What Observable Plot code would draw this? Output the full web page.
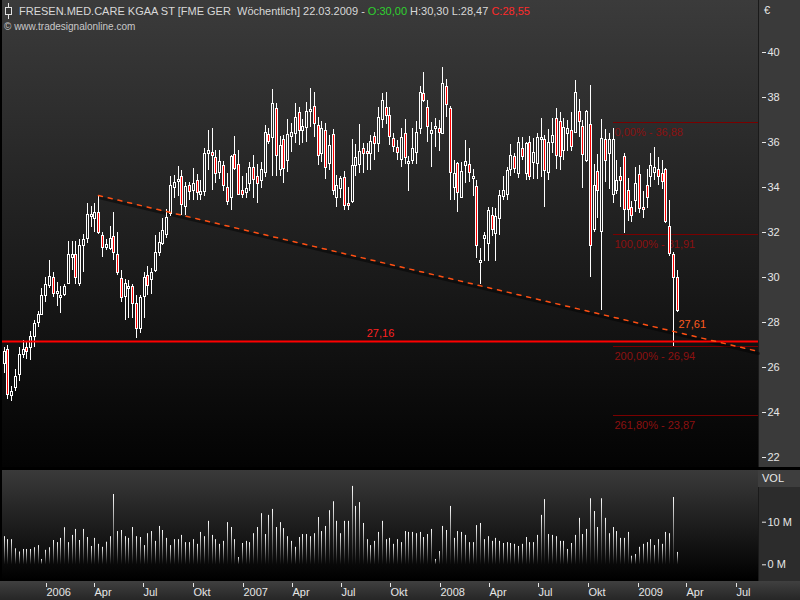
<!DOCTYPE html>
<html><head><meta charset="utf-8">
<script src="https://cdn.jsdelivr.net/npm/d3@7"></script>
<script src="https://cdn.jsdelivr.net/npm/@observablehq/plot@0.6"></script>
<style>
html,body{margin:0;padding:0;background:#000;}
#wrap{position:relative;width:800px;height:600px;overflow:hidden;background:#000;font-family:"Liberation Sans",Arial,sans-serif;}
.abs{position:absolute;}
#pbg{left:2px;top:0;width:756px;height:467px;background:linear-gradient(#3b3b3b,#030303);}
#paxis{left:758px;top:0;width:42px;height:467px;background:#3a3a3a;border-left:1px solid #1a1a1a;box-sizing:border-box;}
#vbg{left:2px;top:470px;width:756px;height:110px;background:linear-gradient(#3a3a3a,#000);}
#vaxis{left:758px;top:470px;width:42px;height:111px;background:#2c2c2c;border-left:1px solid #1a1a1a;box-sizing:border-box;}
#vhdr{left:758px;top:470px;width:42px;height:17px;background:#3e3e3e;color:#e8e8e8;font-size:11px;line-height:17px;padding-left:4px;box-sizing:border-box;}
#xbg{left:0;top:581px;width:800px;height:19px;background:linear-gradient(#404040,#262626);}
#title{left:19px;top:4px;font-size:11px;line-height:14px;color:#d8d8d8;white-space:pre;}
#copy{left:4px;top:20px;font-size:10px;line-height:13px;color:#c8c8c8;white-space:pre;}
#euro{left:764px;top:3px;font-size:11px;line-height:14px;color:#e8e8e8;}
#icon{left:4px;top:3px;}
</style></head>
<body>
<svg width="0" height="0" style="position:absolute">
  <defs>
    <linearGradient id="volgrad" x1="0" y1="0" x2="0" y2="1">
      <stop offset="0" stop-color="#ffffff"/>
      <stop offset="1" stop-color="#0a0a0a"/>
    </linearGradient>
  </defs>
</svg>
<div id="wrap">
  <div id="pbg" class="abs"></div>
  <div id="paxis" class="abs"></div>
  <div id="vbg" class="abs"></div>
  <div id="vaxis" class="abs"></div>
  <div id="vhdr" class="abs">VOL</div>
  <div id="xbg" class="abs"></div>
</div>
<script>
// ---- data (weekly OHLC, EUR) ----
const opens = [26.2,26.8,24.75,25.1,25.7,26.6,26.9,26.9,27.4,28.0,
28.35,29.2,29.65,30.0,29.3,29.1,29.25,29.75,30.9,31.0,
29.75,31.4,31.75,32.7,32.6,32.9,31.85,31.35,31.3,31.8,
31.0,29.95,29.15,29.5,29.6,28.85,27.75,29.15,30.1,29.9,
30.3,31.1,31.5,31.9,32.85,34.0,34.25,34.5,33.15,34.1,
33.85,34.3,33.7,33.8,35.5,35.55,35.3,34.65,34.95,34.0,
33.55,35.45,35.0,33.85,33.75,34.15,34.9,34.5,34.3,34.65,
36.35,36.2,37.5,34.8,36.1,35.2,36.25,36.4,37.3,36.5,
36.65,37.35,37.6,36.75,35.5,36.5,35.05,36.35,33.55,33.95,
34.45,33.3,33.35,34.95,35.0,35.7,35.6,35.5,36.25,35.95,
37.0,37.55,37.2,36.15,35.75,35.25,36.4,35.05,35.2,35.55,
36.6,38.15,37.55,36.4,36.6,36.6,36.4,38.45,37.5,34.0,
35.05,33.55,34.95,35.0,34.4,34.05,30.65,31.75,31.5,32.75,
31.95,32.6,33.6,33.7,34.8,35.35,34.6,35.7,34.6,36.0,
35.1,35.05,36.1,36.1,34.65,36.0,37.05,36.9,35.65,36.4,
36.5,36.45,37.35,36.7,35.2,36.8,32.15,34.7,32.05,36.1,
35.5,33.7,33.85,34.5,35.35,33.85,33.1,33.4,34.55,33.1,
34.1,34.5,34.65,34.8,34.6,34.8,32.25,31.0,30.0];
const highs = [26.9,27.0,25.15,25.9,26.9,27.2,27.1,27.6,28.1,28.5,
29.5,30.0,30.75,30.2,29.8,29.6,29.7,31.6,31.6,31.6,
31.7,31.9,33.3,33.15,33.27,33.65,32.0,31.7,32.25,32.9,
32.0,30.3,29.9,29.85,29.7,29.2,29.2,30.2,30.5,30.4,
31.85,32.0,32.6,33.0,34.5,34.52,34.92,34.74,34.2,34.2,
34.82,34.55,34.3,35.7,36.5,36.6,35.63,35.65,35.15,34.6,
35.4,36.25,35.65,34.5,34.6,35.1,35.4,35.0,35.1,36.74,
36.6,38.35,37.7,36.25,36.3,37.0,36.85,37.73,37.55,37.0,
37.75,38.4,38.2,37.1,36.9,36.85,36.3,36.55,34.52,34.5,
34.7,34.0,36.1,35.9,36.8,35.93,35.94,36.3,36.45,37.55,
38.15,38.2,37.55,36.4,36.08,36.6,37.0,35.35,36.6,36.9,
38.47,39.08,37.85,36.89,37.05,36.95,39.33,38.8,37.6,35.2,
35.11,35.1,36.08,35.7,34.78,34.3,31.27,32.0,33.1,33.1,
33.05,33.85,34.5,34.9,35.9,35.5,36.2,36.2,36.0,36.25,
36.15,36.4,37.04,36.3,36.55,37.05,37.5,37.3,37.05,36.95,
37.3,38.74,37.9,36.95,37.4,38.5,35.0,35.45,37.0,36.55,
36.4,36.6,35.2,34.9,35.5,34.4,33.35,34.9,34.95,33.8,
34.8,35.5,35.75,35.3,35.2,34.85,33.4,31.1,30.3];
const lows = [25.75,24.6,24.5,24.95,25.4,26.4,26.35,26.3,26.9,27.8,
28.3,28.9,29.5,29.1,28.7,28.4,29.15,29.7,30.3,29.7,
29.6,30.2,31.5,32.2,32.0,31.9,30.9,31.2,31.2,30.75,
30.1,28.9,28.1,28.2,28.2,27.3,27.5,28.2,29.2,29.25,
30.2,30.95,31.4,31.75,32.7,33.5,33.6,32.75,32.75,33.4,
33.41,33.4,33.4,33.6,34.75,33.85,34.18,34.35,33.8,33.2,
32.95,34.75,33.65,33.5,33.5,33.8,33.5,33.3,33.95,34.45,
35.9,34.5,34.5,34.48,34.15,34.65,35.55,35.93,35.85,35.95,
36.0,36.65,36.2,34.95,35.1,34.35,34.75,33.64,33.12,33.5,
32.95,32.95,33.3,34.5,34.6,34.6,34.75,34.75,35.2,35.56,
36.6,36.8,35.85,35.55,35.19,34.89,35.0,33.8,35.0,35.0,
36.34,37.77,36.0,34.89,35.75,35.6,36.34,37.1,33.4,33.4,
32.9,33.5,34.18,34.2,33.59,30.83,29.69,30.7,30.7,31.8,
30.7,31.85,33.4,33.4,34.5,34.6,34.4,35.2,34.3,34.3,
34.35,34.35,34.45,33.12,34.3,35.5,34.8,34.75,35.2,35.6,
35.6,36.37,36.2,33.95,35.1,30.0,32.0,32.6,28.55,34.2,
33.9,33.3,33.7,33.1,31.95,32.5,32.45,32.9,32.85,32.6,
33.05,34.0,34.3,34.1,33.9,32.4,30.95,26.95,28.47];
const closes = [26.7,24.8,24.95,25.6,26.6,26.8,26.7,27.4,27.95,28.35,
29.2,29.7,30.05,29.3,29.4,29.2,29.6,31.0,31.0,30.0,
31.4,31.7,32.8,32.8,32.9,32.0,31.35,31.45,31.75,31.1,
30.2,29.1,29.75,29.6,28.85,27.75,29.1,30.0,29.65,30.2,
31.1,31.55,32.1,32.65,34.1,34.2,34.35,33.25,34.05,33.8,
34.15,33.75,33.8,35.5,35.65,35.4,34.6,35.15,34.1,33.35,
35.35,34.85,33.7,33.7,33.95,34.9,34.35,34.15,34.8,36.45,
36.05,37.7,35.4,35.85,34.85,36.35,36.45,37.1,36.5,36.7,
37.35,37.45,36.85,35.4,36.6,34.9,35.85,33.85,34.1,34.4,
33.2,33.2,34.95,35.3,35.6,35.5,35.5,36.05,35.95,37.1,
37.85,37.2,36.25,35.8,35.55,36.2,35.3,35.15,35.7,36.45,
38.2,37.85,36.7,36.5,36.7,36.45,38.6,37.65,34.65,34.6,
33.75,34.7,35.15,34.65,34.5,31.4,30.75,31.85,32.95,32.15,
32.7,33.65,33.85,34.75,35.4,34.85,36.0,35.35,35.95,34.5,
35.55,36.2,36.2,34.75,36.0,36.3,35.4,35.35,36.65,36.6,
35.8,38.2,36.9,35.45,37.35,31.4,34.1,33.85,36.15,35.2,
36.1,36.1,34.3,34.3,33.0,33.0,32.75,34.15,33.05,33.0,
33.55,34.95,34.9,34.5,34.25,32.5,31.05,30.0,28.55];
// weekly volume, millions of shares
const volumes = [6.6,5.9,5.9,3.75,3.0,3.6,3.6,3.6,4.0,4.5,
1.25,3.4,4.0,5.7,5.2,6.2,8.7,5.2,6.9,8.3,
5.7,8.3,6.4,4.3,6.2,4.8,4.1,5.3,6.6,16.5,
7.8,8.05,6.6,6.2,8.75,6.6,6.4,4.5,7.3,7.8,
5.5,9.0,8.05,6.2,4.5,5.9,5.9,6.9,5.2,5.2,
5.9,4.8,7.6,6.6,10.2,6.9,5.9,4.8,5.5,9.9,
8.75,5.9,1.7,5.0,5.5,5.2,7.3,8.75,12.0,7.1,
11.6,13.0,8.75,9.9,8.5,6.6,5.5,4.1,6.4,7.1,
7.1,6.6,7.3,11.1,7.8,9.0,12.7,14.8,10.2,7.3,
10.2,10.2,18.4,13.7,14.6,9.7,5.9,4.5,5.5,7.6,
10.2,5.9,6.2,4.8,5.9,
5.2,7.8,7.6,7.6,7.3,7.6,6.4,7.1,8.3,1.25,
3.1,9.0,8.05,13.7,6.2,7.8,7.6,6.9,5.2,5.2,
9.2,9.7,5.9,6.6,5.5,6.2,5.5,5.0,5.2,5.0,
4.8,4.3,4.8,6.4,5.2,5.2,6.9,11.6,15.3,7.1,
6.9,6.6,5.5,5.5,3.6,5.0,6.9,10.9,7.1,8.3,
15.5,12.5,8.75,15.5,10.9,7.3,8.75,7.8,6.2,6.2,
7.6,2.0,2.4,4.1,4.8,5.2,5.9,4.5,5.9,4.8,
7.6,7.3,15.8,2.9];
const weeks = d3.utcMonday.range(new Date(Date.UTC(2005,9,17)), new Date(Date.UTC(2009,2,17)));

const yTicks = [22,24,26,28,30,32,34,36,38,40];
const volTicks = [0,10];
const xTickDates = [Date.UTC(2006,0,1),Date.UTC(2006,3,1),Date.UTC(2006,6,1),Date.UTC(2006,9,1),
  Date.UTC(2007,0,1),Date.UTC(2007,3,1),Date.UTC(2007,6,1),Date.UTC(2007,9,1),
  Date.UTC(2008,0,1),Date.UTC(2008,3,1),Date.UTC(2008,6,1),Date.UTC(2008,9,1),
  Date.UTC(2009,0,1),Date.UTC(2009,3,1),Date.UTC(2009,6,1)].map(t=>new Date(t));
const xTickLabels = ["2006","Apr","Jul","Okt","2007","Apr","Jul","Okt","2008","Apr","Jul","Okt","2009","Apr","Jul"];

const fibLevels = [36.88,31.91,26.94,23.87];
const fibPcts = ["0,00%","100,00%","200,00%","261,80%"];
const fibStart = new Date(Date.UTC(2008,10,17));
const supportLevel = 27.16;
const supportLabelDate = new Date(Date.UTC(2007,8,13));
const xDomain = [new Date(Date.UTC(2005,9,14)), new Date(Date.UTC(2009,7,13,5))];
const trend = [{date:new Date(Date.UTC(2006,3,10)), price:33.65},{date:xDomain[1], price:26.73}];
const trendLabel = {date:new Date(Date.UTC(2009,2,16)), price:27.61};

// ---- build ----
const fmt = d => d.toFixed(2).replace(".", ",");
const bars = opens.map((o,i)=>({date:weeks[i],open:o,high:highs[i],low:lows[i],close:closes[i],vol:volumes[i]}));
const up = bars.filter(d=>d.close>=d.open);
const down = bars.filter(d=>d.close<d.open);
const FONT = "Liberation Sans, Arial, sans-serif";
// rect marks are not half-pixel offset; these insets put the 1px outline on whole pixels
const bodyInsets = {insetLeft:-0.5, insetRight:-1.5, insetTop:0.5, insetBottom:-0.5};

const pricePlot = Plot.plot({
  width:800, height:468, marginLeft:2, marginRight:42, marginTop:0, marginBottom:0,
  style:{background:"transparent", fontFamily:FONT, fontSize:"11px", position:"absolute", left:"0px", top:"0px", overflow:"visible"},
  x:{type:"utc", domain:xDomain, round:true, axis:null, label:null},
  y:{domain:[21.530, 42.284], round:true, axis:null, label:null},
  marks:[
    Plot.ruleY(fibLevels,{y:d=>d, x1:()=>fibStart, x2:()=>xDomain[1], stroke:"#7a0000"}),
    Plot.text(fibLevels,{x:()=>fibStart, y:d=>d, text:(d,i)=>fibPcts[i]+" - "+fmt(d), textAnchor:"start", dx:1, dy:10, fill:"#8c1010", fontSize:11}),
    Plot.line(trend,{x:"date", y:"price", stroke:"#000", strokeOpacity:0.45, strokeWidth:3, dy:2}),
    Plot.ruleX(bars,{x:"date", y1:d=>Math.max(d.open,d.close), y2:"high", stroke:"#ffffff"}),
    Plot.ruleX(bars,{x:"date", y1:"low", y2:d=>Math.min(d.open,d.close), stroke:"#ffffff"}),
    Plot.rect(up,{x1:"date", x2:"date", y1:"open", y2:"close", ...bodyInsets, fill:"none", stroke:"#ffffff"}),
    Plot.rect(down,{x1:"date", x2:"date", y1:"open", y2:"close", ...bodyInsets, fill:"#ff0000", stroke:"#ffffff"}),
    Plot.ruleY([supportLevel],{y:d=>d, stroke:"#ff0000", strokeWidth:2}),
    Plot.text([supportLevel],{x:()=>supportLabelDate, y:d=>d, text:d=>fmt(d), fill:"#ff2020", dy:-8, fontSize:11}),
    Plot.line(trend,{x:"date", y:"price", stroke:"#ff4f12", strokeWidth:1.5, strokeDasharray:"4,6"}),
    Plot.text([trendLabel],{x:"date", y:"price", text:d=>fmt(d.price), fill:"#ff5a1f", textAnchor:"start", dx:1, dy:-7, fontSize:11}),
    Plot.axisY({anchor:"right", ticks:yTicks, tickSize:4, dx:3, tickPadding:2, tickFormat:d=>String(d), color:"#e6e6e6", fontSize:11, label:null})
  ]
});

const labelMap = new Map(xTickDates.map((d,i)=>[+d, xTickLabels[i]]));
const volPlot = Plot.plot({
  width:800, height:132, marginLeft:2, marginRight:42, marginTop:2, marginBottom:20,
  style:{background:"transparent", fontFamily:FONT, fontSize:"11px", position:"absolute", left:"0px", top:"468px", overflow:"visible"},
  x:{type:"utc", domain:xDomain, round:true, axis:null, label:null},
  y:{domain:[-3.685, 22.136], axis:null, label:null},
  marks:[
    Plot.rect(bars,{x1:"date", x2:"date", y1:0, y2:"vol", insetLeft:0, insetRight:-1, fill:"url(#volgrad)"}),
    Plot.axisY({anchor:"right", ticks:volTicks, tickSize:4, dx:3, tickPadding:2, tickFormat:d=>d+" M", color:"#e6e6e6", fontSize:11, label:null}),
    Plot.axisX({ticks:xTickDates, tickFormat:d=>labelMap.get(+d), tickSize:4, tickPadding:1, dy:3, dx:1, textAnchor:"start", color:"#e6e6e6", fontSize:11, label:null})
  ]
});

const wrap = document.getElementById("wrap");
wrap.appendChild(pricePlot);
wrap.appendChild(volPlot);

// header texts
const icon = document.createElement("div");
icon.className = "abs"; icon.id = "icon";
icon.innerHTML = '<svg width="9" height="16"><line x1="4.5" y1="0" x2="4.5" y2="16" stroke="#e0e0e0"/><rect x="1.5" y="4.5" width="6" height="7" fill="#333" stroke="#e0e0e0"/></svg>';
wrap.appendChild(icon);
const title = document.createElement("div");
title.className = "abs"; title.id = "title";
title.innerHTML = 'FRESEN.MED.CARE KGAA ST [FME GER  Wöchentlich] 22.03.2009 - <span style="color:#2fd12f">O:30,00</span> H:30,30 L:28,47 <span style="color:#ff2a2a">C:28,55</span>';
wrap.appendChild(title);
const copy = document.createElement("div");
copy.className = "abs"; copy.id = "copy";
copy.textContent = "© www.tradesignalonline.com";
wrap.appendChild(copy);
const euro = document.createElement("div");
euro.className = "abs"; euro.id = "euro";
euro.textContent = "€";
wrap.appendChild(euro);
</script>
</body></html>
